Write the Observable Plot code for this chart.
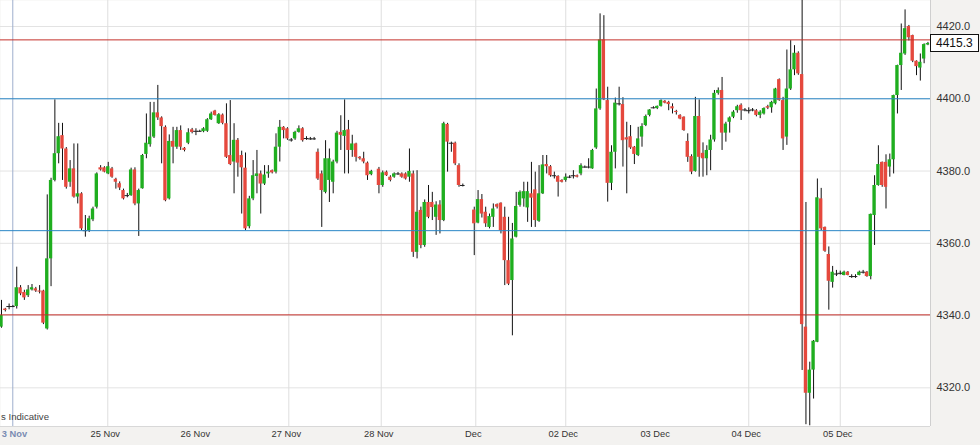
<!DOCTYPE html>
<html>
<head>
<meta charset="utf-8">
<script src="https://cdn.jsdelivr.net/npm/d3@7"></script>
<script src="https://cdn.jsdelivr.net/npm/@observablehq/plot@0.6"></script>
<style>
  body { margin: 0; background: #f3f2f0; }
  #chart { width: 980px; height: 445px; overflow: hidden; }
</style>
</head>
<body>
<div id="chart"></div>
<script>
// Hourly candles, index 0..243 (null = no candle drawn)
const opens = [
4336.8,4341.8,4342.5,4342.5,4342.5,4347.7,4346.4,4345.5,4347.1,4347.4,
4346.8,4346.8,4336.3,4355.7,4377.4,4384.8,4389.8,4386.1,4376.9,4380.6,
4372.8,4373.7,4363.5,4363.5,4366.5,4370.0,4380.9,4380.9,4379.2,4380.6,
4377.7,4376.5,4374.6,4373.2,4373.2,4380.3,4370.9,4375.1,4384.6,4387.3,
4389.4,4396.1,4394.7,4392.1,4372.3,4388.2,4386.6,4391.2,4386.3,4387.7,
4391.4,4391.0,4391.0,4390.9,4391.0,4394.2,4396.6,4393.1,4395.5,4393.1,
4384.3,4382.5,4388.5,4384.3,4380.8,4364.6,4372.3,4378.5,4379.2,4376.4,
4379.2,4380.1,4379.7,4386.6,4392.1,4391.7,4388.6,4388.9,4390.7,4391.7,
4389.0,4388.9,4388.9,4385.2,4379.2,4374.1,4377.4,4376.9,4382.5,4390.7,
4389.6,4391.4,4385.7,4387.5,4383.8,4383.4,4382.2,4379.0,null,4380.5,
4376.0,4379.7,4378.3,4378.3,4379.2,4379.2,4379.2,4378.3,4379.2,4357.5,
4369.1,4359.4,4371.3,4371.3,4367.2,4370.6,4366.3,4392.9,4387.7,4387.7,
4381.5,4376.0,null,null,4369.2,4365.6,4372.1,4368.6,4364.4,4367.2,
4370.7,4371.1,4367.2,4355.2,4349.7,4361.7,4370.5,4372.3,4369.8,4373.7,
4374.8,4366.1,4373.7,4381.8,4381.2,4378.7,4378.5,4377.4,4377.4,4378.3,
4378.7,4378.7,4379.2,4381.1,4381.1,4380.6,4386.4,4397.2,4416.3,4399.5,
4376.6,4385.2,4398.6,4398.4,4389.2,4389.5,4386.6,4384.3,4389.4,4392.6,
4395.4,4397.5,4397.3,4397.9,4399.3,4399.0,4397.8,4396.5,4395.4,4394.9,
4388.2,4384.0,4379.9,4395.1,4384.9,4383.4,4385.7,4388.6,4401.5,4402.3,
4390.5,4393.5,4394.9,4396.7,4398.2,4396.9,4396.7,4396.9,4396.7,4395.4,
4395.8,4397.8,4397.5,4398.6,4405.3,4399.5,4389.4,4402.7,4408.0,4412.6,
4406.7,4336.8,4318.5,4324.9,4332.6,4372.3,4364.4,4356.9,4349.2,4351.5,
4351.7,4351.1,4352.0,4350.8,4350.8,4351.1,4352.0,4352.0,4350.8,4367.7,
4376.0,4382.4,4382.4,4381.1,4383.1,4400.9,4409.2,4412.4,4420.0,4417.5,
4410.4,4408.5,4411.0,4414.9
];
const highs = [
4344.2,4342.0,4343.2,4342.8,4353.4,4348.3,4347.0,4348.3,4348.6,4347.8,
4348.3,4347.0,4373.4,4378.0,4399.7,4393.2,4393.2,4386.5,4382.9,4387.5,
4387.5,4374.0,4367.7,4367.5,4370.0,4379.5,4381.5,4381.2,4382.4,4381.0,
4378.0,4377.0,4375.0,4373.8,4380.8,4380.9,4375.0,4384.6,4395.8,4399.0,
4399.0,4403.7,4395.0,4392.5,4390.0,4392.1,4392.1,4392.5,4386.5,4391.7,
4391.8,4391.7,4391.3,4392.0,4394.5,4396.3,4396.8,4395.9,4395.8,4398.6,
4399.5,4393.1,4389.0,4385.5,4385.0,4373.0,4382.9,4385.7,4380.0,4381.5,
4381.5,4380.3,4390.3,4394.0,4392.3,4392.0,4389.0,4391.0,4392.5,4392.0,
4389.5,4389.3,4389.3,4386.1,4380.0,4388.4,4386.1,4383.0,4391.0,4395.3,
4399.7,4394.0,4389.9,4387.7,4384.0,4385.2,4382.5,4380.2,null,4381.0,
4380.0,4380.0,4378.7,4379.5,4379.6,4379.5,4379.5,4386.1,4380.0,4380.1,
4370.0,4372.0,4376.0,4374.1,4371.5,4371.8,4393.5,4393.2,4388.0,4388.0,
4382.0,4376.4,null,null,4370.0,4374.6,4373.5,4370.0,4368.1,4370.9,
4370.9,4371.2,4370.0,4367.2,4365.5,4374.1,4374.5,4376.9,4376.9,4382.4,
4379.7,4381.5,4384.3,4384.3,4381.5,4379.7,4378.7,4377.6,4379.2,4378.7,
4380.1,4378.9,4382.0,4381.4,4383.4,4386.0,4402.7,4423.5,4423.0,4403.2,
4387.0,4400.2,4403.2,4400.3,4393.5,4392.6,4386.8,4392.1,4393.1,4395.5,
4397.0,4397.8,4398.0,4399.7,4399.5,4399.3,4398.6,4396.8,4395.6,4395.0,
4390.3,4384.5,4400.4,4399.7,4387.8,4387.0,4389.9,4402.3,4403.0,4405.9,
4393.5,4395.0,4396.7,4398.2,4398.6,4397.3,4397.5,4397.3,4397.0,4396.7,
4397.5,4398.2,4399.3,4402.9,4405.5,4400.4,4413.5,4416.1,4414.7,4413.0,
4428.5,4371.3,4327.1,4333.1,4377.8,4375.2,4364.5,4359.0,4353.6,4352.5,
4352.3,4352.3,4352.2,4351.3,4351.3,4352.3,4352.5,4352.2,4368.1,4378.7,
4387.0,4382.5,4384.5,4384.7,4401.0,4409.3,4420.7,4424.6,4420.3,4417.6,
4410.5,4412.4,4415.2,4415.6
];
const lows = [
4336.5,4341.0,4341.6,4342.2,4341.8,4345.5,4344.2,4345.0,4346.8,4346.4,
4346.0,4337.5,4336.0,4348.0,4377.0,4382.0,4377.4,4375.0,4375.5,4372.5,
4370.9,4363.5,4361.7,4363.0,4366.0,4369.5,4380.0,4379.5,4379.0,4378.0,
4375.0,4374.6,4372.0,4372.6,4373.0,4370.4,4361.9,4375.0,4383.4,4386.6,
4389.0,4394.0,4382.0,4371.5,4372.0,4382.0,4386.0,4385.7,4385.3,4387.3,
4390.3,4389.8,4390.7,4390.6,4390.7,4394.0,4395.2,4392.9,4392.8,4383.5,
4381.5,4373.7,4378.3,4368.1,4363.5,4364.0,4371.8,4373.7,4368.1,4376.0,
4378.0,4379.2,4379.2,4382.5,4388.9,4388.5,4388.0,4388.5,4390.5,4388.0,
4388.5,4388.5,4388.5,4377.4,4364.4,4373.7,4371.3,4373.7,4382.0,4385.7,
4379.2,4379.2,4383.8,4382.5,4383.0,4382.0,4377.4,4378.7,null,4373.7,
4375.5,4378.5,4377.0,4378.0,4378.8,4378.0,4377.5,4376.9,4356.1,4355.7,
4358.5,4358.9,4366.8,4366.3,4362.2,4362.6,4366.0,4379.7,4385.2,4381.5,
4375.5,4375.6,null,null,4356.6,4365.4,4367.0,4364.4,4364.0,4364.4,
4369.5,4362.6,4348.3,4348.3,4334.4,4361.5,4370.0,4370.0,4365.8,4364.4,
4364.4,4365.8,4373.5,4379.2,4378.3,4377.8,4372.8,4376.7,4376.9,4377.9,
4377.8,4378.1,4378.7,4380.8,4380.6,4380.5,4386.0,4396.8,4399.5,4371.4,
4374.6,4380.6,4398.0,4381.1,4373.7,4386.0,4381.8,4384.0,4386.6,4392.3,
4395.0,4397.2,4397.0,4397.7,4398.6,4396.7,4395.8,4395.5,4394.2,4391.0,
4382.4,4379.0,4379.7,4378.3,4378.3,4378.7,4380.1,4388.0,4401.0,4385.7,
4388.0,4390.5,4394.5,4396.0,4394.0,4396.4,4395.8,4396.4,4395.0,4394.5,
4395.5,4397.0,4396.0,4398.3,4399.3,4385.7,4387.1,4402.3,4406.4,4406.5,
4324.8,4309.8,4309.5,4316.9,4332.5,4363.5,4357.5,4341.5,4347.6,4350.8,
4351.2,4351.0,4351.0,4350.3,4350.3,4351.0,4351.5,4350.6,4349.9,4359.4,
4375.8,4375.5,4369.5,4378.3,4379.2,4395.8,4402.3,4412.0,4416.0,4410.0,
4406.4,4404.9,4409.7,4414.7
];
const closes = [
4340.0,4341.4,4342.5,4342.5,4347.7,4346.0,4344.9,4347.1,4347.7,4346.8,
4346.5,4337.9,4355.7,4377.4,4384.8,4389.5,4386.1,4375.5,4380.6,4372.8,
4373.7,4364.0,4363.5,4366.8,4369.5,4379.2,4380.3,4379.7,4381.2,4378.3,
4376.9,4375.3,4372.3,4373.2,4380.3,4370.9,4374.6,4384.3,4387.7,4389.4,
4396.1,4394.7,4392.3,4371.8,4388.2,4386.6,4391.2,4386.6,4385.7,4390.6,
4390.7,4391.0,4391.0,4391.7,4394.2,4395.8,4395.4,4395.6,4393.2,4383.8,
4381.8,4388.5,4382.2,4380.9,4364.0,4372.3,4378.7,4379.2,4376.4,4378.9,
4379.7,4379.5,4386.6,4392.1,4391.2,4388.9,4388.6,4390.7,4391.7,4388.4,
4389.0,4388.9,4388.9,4377.8,4374.6,4383.4,4383.4,4382.5,4390.5,4389.9,
4391.2,4385.7,4387.5,4383.8,4383.4,4382.5,4378.7,4379.9,null,4376.0,
4379.5,4378.7,4377.4,4379.2,4379.2,4378.3,4377.8,4379.9,4357.5,4368.6,
4359.4,4371.3,4367.2,4369.9,4370.6,4366.3,4393.1,4388.0,4387.7,4382.0,
4376.0,4376.0,null,null,4365.4,4372.1,4368.1,4365.4,4367.4,4369.5,
4370.0,4363.5,4355.2,4348.7,4361.2,4370.2,4374.1,4374.3,4374.3,4372.5,
4366.3,4373.7,4381.7,4381.2,4378.7,4378.7,4376.9,4376.9,4378.3,4378.3,
4378.7,4378.3,4381.5,4381.1,4381.1,4385.7,4397.2,4416.3,4399.7,4376.6,
4385.2,4398.8,4398.9,4388.4,4388.6,4386.4,4384.6,4388.9,4392.3,4395.1,
4396.9,4397.5,4397.9,4399.5,4398.8,4398.4,4397.2,4396.2,4394.4,4391.2,
4383.8,4379.7,4395.1,4383.8,4383.4,4385.7,4388.6,4401.5,4402.3,4390.5,
4393.0,4394.7,4396.3,4397.8,4396.7,4396.9,4396.7,4396.9,4395.4,4396.3,
4397.3,4397.4,4399.0,4402.7,4399.5,4388.9,4402.7,4408.0,4412.6,4406.9,
4337.5,4318.5,4324.9,4332.9,4372.6,4364.0,4357.8,4349.5,4352.0,4351.5,
4351.7,4352.0,4351.1,4350.8,4350.8,4352.0,4352.0,4350.8,4368.0,4376.0,
4381.8,4376.0,4375.5,4383.1,4400.9,4409.2,4412.6,4419.4,4416.9,4410.4,
4408.9,4410.1,4415.0,4415.3
];

// Axis / annotation values
const yTicks = [4320, 4340, 4360, 4380, 4400, 4420];
const dayTickPos = [2.96, 27.88, 51.5, 75.36, 99.6, 124.4, 148.0, 172.1, 196.0, 220.0];
const dayTickLabels = ["3 Nov", "25 Nov", "26 Nov", "27 Nov", "28 Nov", "Dec", "02 Dec", "03 Dec", "04 Dec", "05 Dec"];
const dayGridPos = [27.88, 75.36, 99.6, 124.4, 148.0, 196.0, 220.0];
const sessionMarker = [2.96];
const redLevels = [4416.3, 4340.2];
const blueLevels = [4400.0, 4363.5];
const lastPrice = 4415.3;
const indicativeNote = "s Indicative";

const xDomain = [-0.262, 243.67];
const yDomain = [4309.3, 4427.2];

const GREEN = "#1fae1f";
const RED = "#e5483d";

const candles = opens.map((o, i) => ({i, o, h: highs[i], l: lows[i], c: closes[i]}))
  .filter(d => d.o != null);
const ups = candles.filter(d => d.c - d.o >= 0.3);
const downs = candles.filter(d => d.o - d.c >= 0.3);
const dojis = candles.filter(d => Math.abs(d.c - d.o) < 0.3);
const labelOf = new Map(dayTickPos.map((p, k) => [p, dayTickLabels[k]]));
const HW = 0.44;

const chart = Plot.plot({
  width: 980,
  height: 445,
  marginLeft: 0,
  marginRight: 50,
  marginTop: 0,
  marginBottom: 19,
  style: {background: "#f3f2f0", fontFamily: "'Liberation Sans', Arial, sans-serif", overflow: "hidden"},
  x: {type: "linear", domain: xDomain, label: null},
  y: {domain: yDomain, label: null},
  marks: [
    Plot.frame({fill: "white", stroke: "none"}),
    Plot.gridY(yTicks, {stroke: "#e3e3e3", strokeOpacity: 1}),
    Plot.gridX(dayGridPos, {stroke: "#dedede", strokeOpacity: 1}),
    Plot.ruleX(sessionMarker, {stroke: "#9eaecd", strokeWidth: 1}),
    Plot.ruleX(candles, {x: "i", y1: "l", y2: "h", stroke: "#111", strokeWidth: 1, clip: true}),
    Plot.rect(ups, {x1: d => d.i - HW, x2: d => d.i + HW, y1: "o", y2: "c", fill: GREEN, clip: true}),
    Plot.rect(downs, {x1: d => d.i - HW, x2: d => d.i + HW, y1: "o", y2: "c", fill: RED, clip: true}),
    Plot.ruleY(dojis, {y: "o", x1: d => d.i - 0.6, x2: d => d.i + 0.6, stroke: "#222", strokeWidth: 1}),
    Plot.ruleY(blueLevels, {stroke: "#2a86c6", strokeWidth: 1}),
    Plot.ruleY(redLevels, {stroke: "#c4302b", strokeWidth: 1}),
    Plot.ruleX([xDomain[1]], {stroke: "#cfcfcf"}),
    Plot.ruleY([yDomain[0]], {stroke: "#d8d8d8"}),
    Plot.axisY(yTicks, {anchor: "right", label: null, tickSize: 0, tickPadding: 6, tickFormat: d3.format(".1f"), fontSize: 11, fill: "#333"}),
    Plot.axisX(dayTickPos.slice(1), {anchor: "bottom", label: null, tickSize: 0, tickPadding: 4, tickFormat: d => labelOf.get(d), fontSize: 9.3, fill: "#333", dx: -2.5}),
    Plot.axisX(dayTickPos.slice(0, 1), {anchor: "bottom", label: null, tickSize: 0, tickPadding: 4, tickFormat: d => labelOf.get(d), fontSize: 9.3, fill: "#7a8bb2", fontWeight: "bold", textAnchor: "start", dx: -11})
  ]
});

const svg = d3.select(chart);
// Note text at bottom-left of the plot area
svg.append("text")
  .attr("x", 1).attr("y", 417).attr("dy", "0.35em")
  .attr("text-anchor", "start")
  .attr("font-size", 9.6).attr("fill", "#444")
  .text(indicativeNote);

// Last price tag on the right axis, positioned with the chart's own y scale
const py = chart.scale("y").apply(lastPrice);
const g = svg.append("g").attr("text-anchor", "start");
g.append("rect")
  .attr("x", 930.5).attr("y", Math.round(py) - 8.5)
  .attr("width", 48).attr("height", 17)
  .attr("fill", "white").attr("stroke", "#111").attr("stroke-width", 1);
g.append("text")
  .attr("x", 936).attr("y", py).attr("dy", "0.35em")
  .attr("text-anchor", "start")
  .attr("font-size", 12).attr("fill", "#111")
  .text(lastPrice.toFixed(1));

document.getElementById("chart").appendChild(chart);
</script>
</body>
</html>
